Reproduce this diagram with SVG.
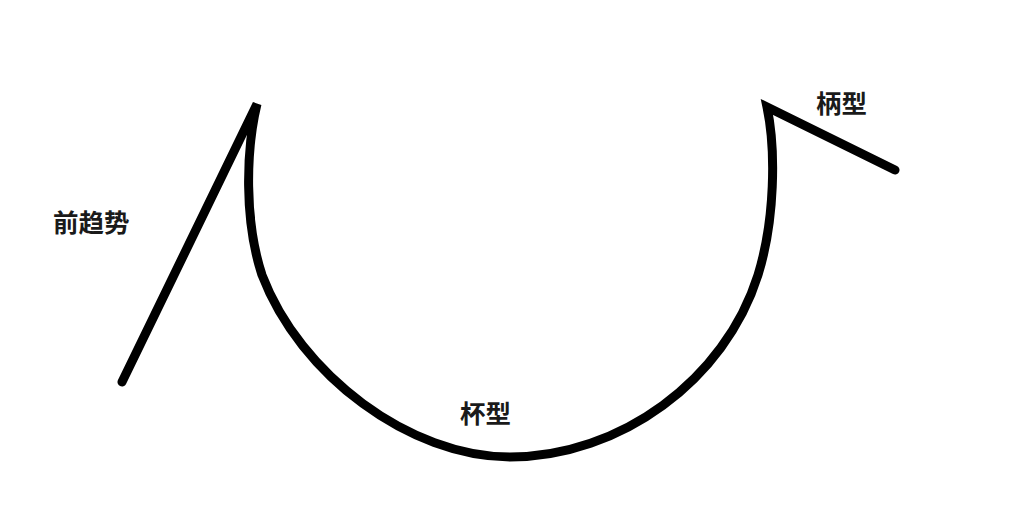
<svg xmlns="http://www.w3.org/2000/svg" width="1028" height="520" viewBox="0 0 1028 520">
  <style>
    .stroke { fill: none; stroke: #000; stroke-width: 9; stroke-linecap: round; stroke-linejoin: miter; }
    .lbl { font-family: "Noto Sans CJK SC", "Noto Sans", sans-serif; font-size: 25.5px; font-weight: bold; fill: #1a1a1a; }
  </style>
  <rect width="1028" height="520" fill="#ffffff"/>
  <g id="connectors">
    <path class="stroke" d="M 122,382 L 257,104 C 246,150 244,220 262,275 C 300,375 410,457 510,457 C 620,457 725,380 758,275 C 775,220 776,150 767,107 L 895,170"/>
  </g>
  <g id="label-prior-trend">
    <text class="lbl" x="53" y="232">前趋势</text>
  </g>
  <g id="label-handle">
    <text class="lbl" x="816" y="113">柄型</text>
  </g>
  <g id="label-cup">
    <text class="lbl" x="460" y="423">杯型</text>
  </g>
</svg>
